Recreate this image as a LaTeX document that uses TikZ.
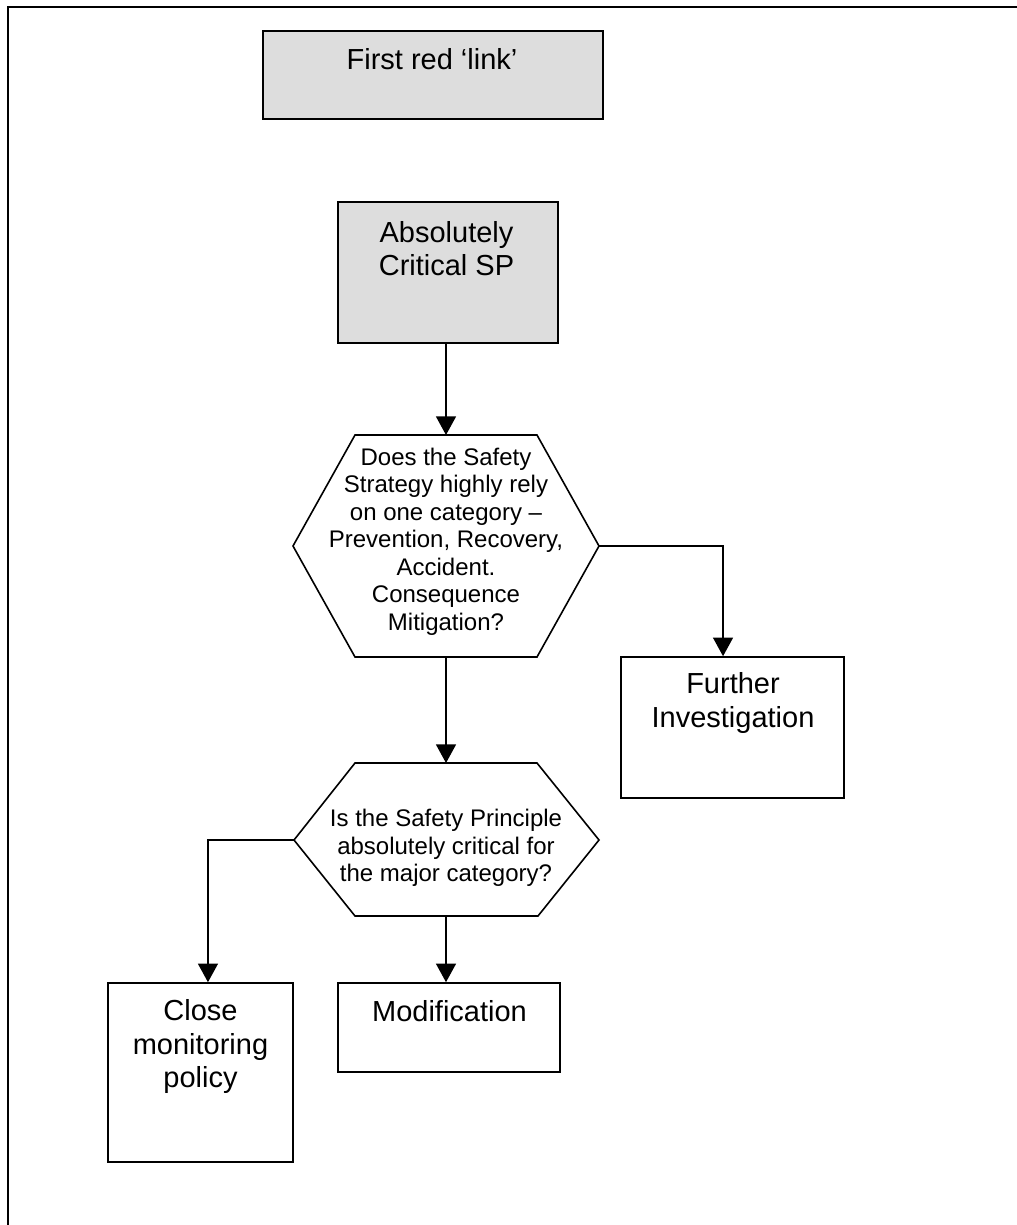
\documentclass[tikz,border=0pt]{standalone}
\usepackage{fontspec}
\setmainfont{Liberation Sans}
\usetikzlibrary{arrows.meta}
\definecolor{boxgray}{RGB}{221,221,221}
\begin{document}
\begin{tikzpicture}[x=0.75pt,y=-0.75pt,
  box/.style={draw, line width=1.2pt, rectangle, inner sep=0pt},
  greybox/.style={box, fill=boxgray},
  bigtxt/.style={align=center, font=\fontsize{21.75pt}{25pt}\selectfont, inner sep=0pt},
  smalltxt/.style={align=center, font=\fontsize{18pt}{20.6pt}\selectfont, inner sep=0pt},
  hexline/.style={line width=1.2pt, line join=miter},
  arr/.style={line width=1.2pt, -{Triangle[width=15pt,length=14pt]}},
  frame/.style={line width=2pt}]
\useasboundingbox (0,0) rectangle (1017,1225);

% page frame (top and left rules)
\coordinate (fBL) at (8,1225);
\coordinate (fTL) at (8,7);
\coordinate (fTR) at (1017,7);
\draw[frame] (fBL) -- (fTL) -- (fTR);

% boxes
\node[greybox, minimum width=255pt, minimum height=66pt] (first) at (433,75) {};
\node[bigtxt] (firstT) at (432,59) {First red ‘link’};

\node[greybox, minimum width=165pt, minimum height=105.75pt] (abs) at (448,272.5) {};
\node[bigtxt] (absT) at (446.5,248.5) {Absolutely\\Critical SP};

\node[box, minimum width=167.25pt, minimum height=105.75pt] (fur) at (732.5,727.5) {};
\node[bigtxt] (furT) at (733,703) {Further\\Investigation};

\node[box, minimum width=138.75pt, minimum height=134.25pt] (close) at (200.5,1072.5) {};
\node[bigtxt] (closeT) at (200.5,1046.5) {Close\\monitoring\\policy};

\node[box, minimum width=166.5pt, minimum height=66.75pt] (mod) at (449,1027.5) {};
\node[bigtxt] (modT) at (449.5,1011) {Modification};

% first decision hexagon
\coordinate (h1TL) at (355,435);
\coordinate (h1TR) at (537,435);
\coordinate (h1R)  at (599,546);
\coordinate (h1BR) at (537,657);
\coordinate (h1BL) at (355,657);
\coordinate (h1L)  at (293,546);
\coordinate (h1T)  at (446,435);
\coordinate (h1B)  at (446,657);
\draw[hexline] (h1TL) -- (h1TR) -- (h1R) -- (h1BR) -- (h1BL) -- (h1L) -- cycle;
\node[smalltxt] (h1text) at (446,541.5) {Does the Safety\\Strategy highly rely\\on one category –\\Prevention, Recovery,\\Accident.\\Consequence\\Mitigation?};

% second decision hexagon
\coordinate (h2TL) at (355,763);
\coordinate (h2TR) at (537,763);
\coordinate (h2R)  at (599,840);
\coordinate (h2BR) at (538,916);
\coordinate (h2BL) at (355,916);
\coordinate (h2L)  at (294,840);
\coordinate (h2T)  at (446,763);
\coordinate (h2B)  at (446,916);
\draw[hexline] (h2TL) -- (h2TR) -- (h2R) -- (h2BR) -- (h2BL) -- (h2L) -- cycle;
\node[smalltxt] (h2text) at (446,848) {Is the Safety Principle\\absolutely critical for\\the major category?};

% connectors
\draw[arr] (abs.south -| h1T) -- (h1T);
\draw[arr] (h1B) -- (h2T);
\draw[arr] (h1R) -| ([xshift=-7.1pt]fur.north);
\draw[arr] (h2L) -| ([xshift=5.6pt]close.north);
\draw[arr] (h2B) -- (h2B |- mod.north);
\end{tikzpicture}
\end{document}
